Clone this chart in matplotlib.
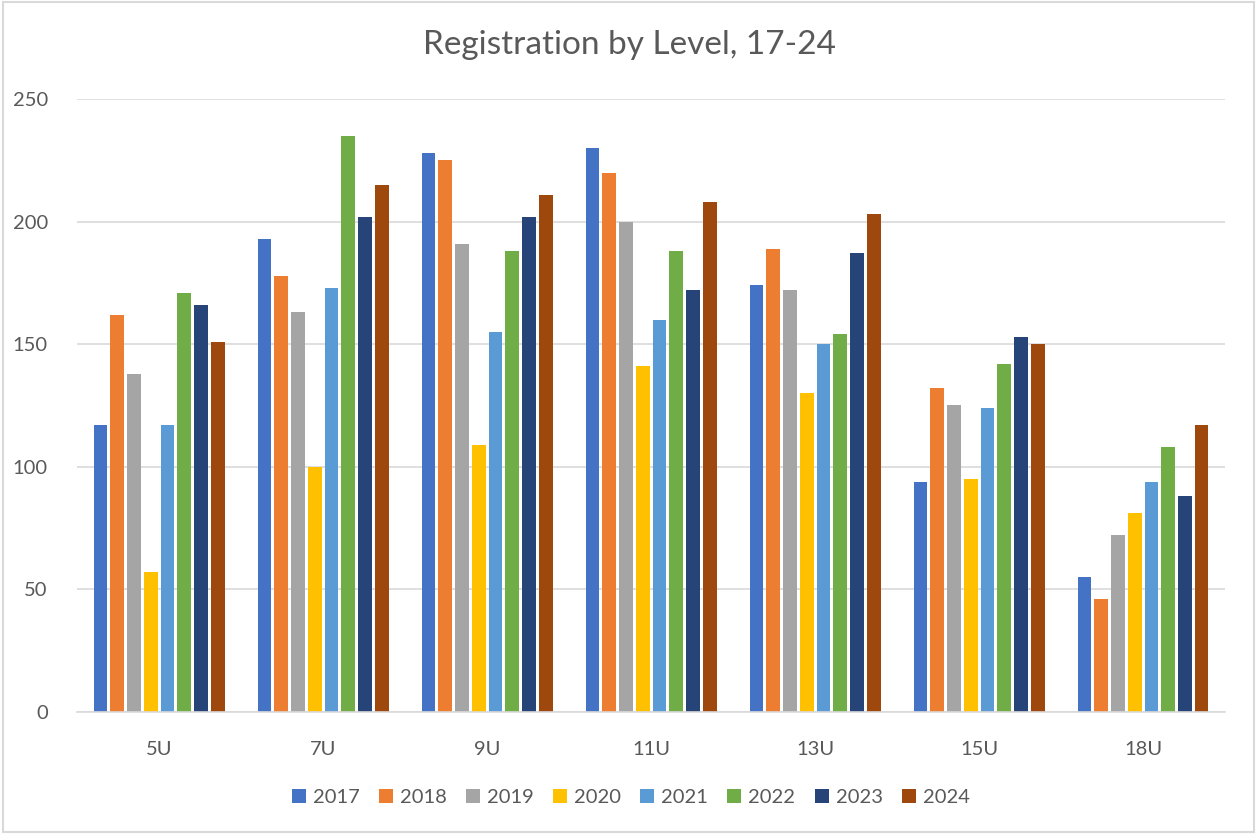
import numpy as np
import matplotlib
matplotlib.use("Agg")
import matplotlib.pyplot as plt
from matplotlib.patches import Rectangle

# data
levels = ["5U", "7U", "9U", "11U", "13U", "15U", "18U"]
years = ["2017", "2018", "2019", "2020", "2021", "2022", "2023", "2024"]

reg_2017 = [117, 193, 228, 230, 174, 94, 55]
reg_2018 = [162, 178, 225, 220, 189, 132, 46]
reg_2019 = [138, 163, 191, 200, 172, 125, 72]
reg_2020 = [57, 100, 109, 141, 130, 95, 81]
reg_2021 = [117, 173, 155, 160, 150, 124, 94]
reg_2022 = [171, 235, 188, 188, 154, 142, 108]
reg_2023 = [166, 202, 202, 172, 187, 153, 88]
reg_2024 = [151, 215, 211, 208, 203, 150, 117]

series = [reg_2017, reg_2018, reg_2019, reg_2020,
          reg_2021, reg_2022, reg_2023, reg_2024]
colors = ["#4472C4", "#ED7D31", "#A5A5A5", "#FFC000",
          "#5B9BD5", "#70AD47", "#264478", "#9E480E"]

plt.rcParams["font.family"] = ["Lato", "DejaVu Sans"]
text_col = "#595959"
grid_col = "#d9d9d9"

fig = plt.figure(figsize=(12.59, 8.34), dpi=100)
ax = fig.add_axes([0.0612, 0.1463, 0.9118, 0.735])

x = np.arange(len(levels))
slot = 0.817 / len(series)
for i, (vals, c, yr) in enumerate(zip(series, colors, years)):
    offs = (i - (len(series) - 1) / 2) * slot
    ax.bar(x + offs, vals, width=slot * 0.82, color=c, label=yr, zorder=3)

ax.set_xlim(-0.5, len(levels) - 0.5)
ax.set_ylim(0, 250)
ax.set_yticks(range(0, 251, 50))
ax.set_xticks(x)
ax.set_xticklabels(levels)
ax.grid(axis="y", color=grid_col, linewidth=1.2, zorder=0)
ax.tick_params(axis="both", length=0, labelsize=14.5, colors=text_col)
ax.tick_params(axis="x", pad=21)
ax.tick_params(axis="y", pad=21)
for s in ["top", "right", "left"]:
    ax.spines[s].set_visible(False)
ax.spines["bottom"].set_color(grid_col)
ax.spines["bottom"].set_linewidth(1.2)
ax.spines["bottom"].set_zorder(4)

fig.text(0.5, 0.946, "Registration by Level, 17-24", ha="center", va="center",
         fontsize=24, color=text_col)

fig.legend(loc="center", bbox_to_anchor=(0.501, 0.044), ncol=8, frameon=False,
           fontsize=14.5, labelcolor=text_col, handlelength=0.7, handleheight=0.7,
           handletextpad=0.35, columnspacing=0.95)

# light chart border like the original
fig.patches.append(Rectangle((0.002, 0.002), 0.994, 0.996, transform=fig.transFigure,
                             fill=False, edgecolor=grid_col, linewidth=1.5))

fig.savefig("out.png", dpi=100)
